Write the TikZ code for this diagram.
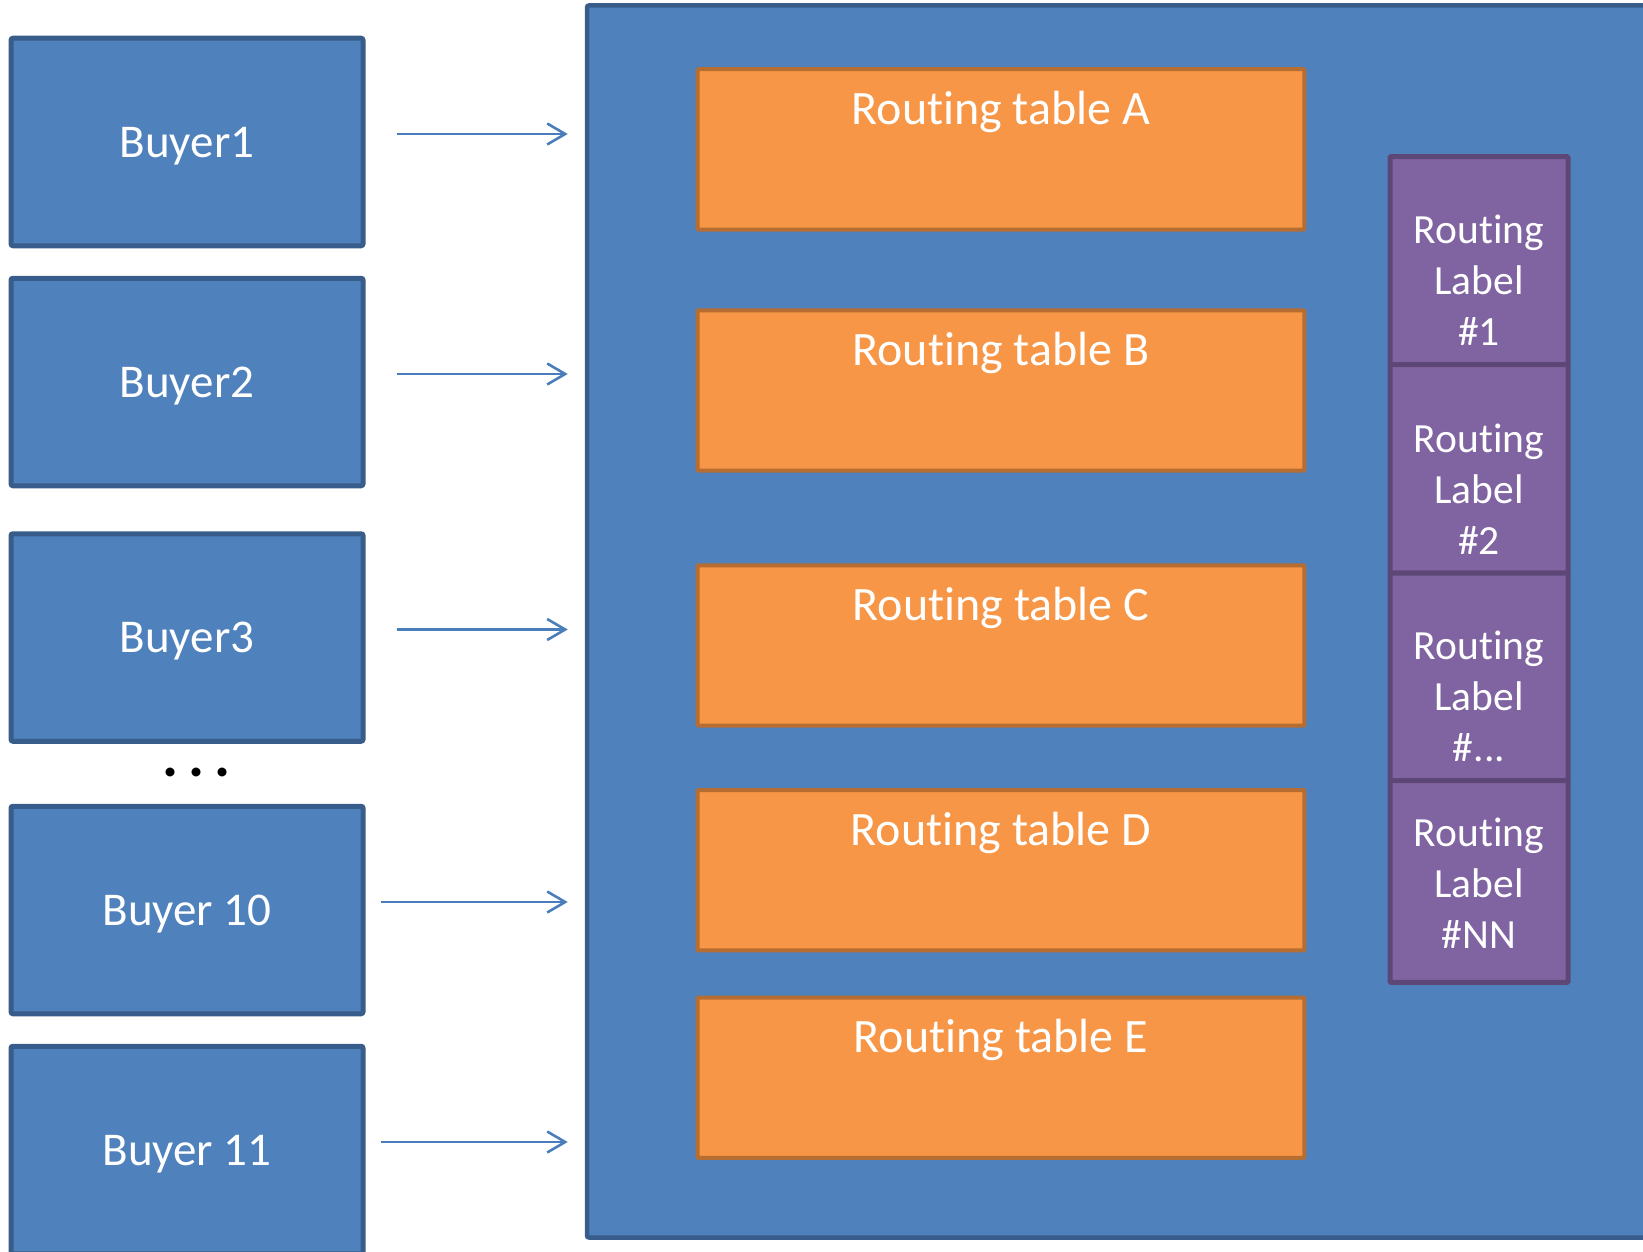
\documentclass[tikz,border=0pt]{standalone}
\usepackage{fontspec}
\setmainfont[Ligatures=NoCommon]{Carlito}
\usepackage{xcolor}
\usepackage{tikz}
\usetikzlibrary{arrows.meta}
\definecolor{boxBlue}{HTML}{4F81BD}
\definecolor{edgeBlue}{HTML}{385D8A}
\definecolor{arrowBlue}{HTML}{4A7EBB}
\definecolor{tableOrange}{HTML}{F79646}
\definecolor{edgeOrange}{HTML}{B66D31}
\definecolor{labelPurple}{HTML}{8064A2}
\definecolor{edgePurple}{HTML}{5C4776}
\newcommand{\arrowLift}{8pt}

\begin{document}
\begin{tikzpicture}[x=1pt,y=-1pt,
	buyer/.style={draw=edgeBlue,fill=boxBlue,line width=5pt,rounded corners=2pt,minimum width=352pt,minimum height=207.5pt,inner sep=0pt,text depth=0pt,text=white,font=\fontsize{47}{56}\selectfont},
	rtable/.style={draw=edgeOrange,fill=tableOrange,line width=4pt,rounded corners=1pt,minimum width=606.7pt,minimum height=160.3pt,inner sep=0pt},
	rtabletext/.style={anchor=base,inner sep=0pt,text=white,font=\fontsize{48}{58}\selectfont},
	rlabel/.style={draw=edgePurple,fill=labelPurple,line width=5pt,rounded corners=1pt,minimum width=178pt,inner sep=0pt},
	rlabeltext/.style={align=center,inner sep=0pt,text=white,font=\fontsize{41.5}{51}\selectfont},
	feed/.style={draw=arrowBlue,line width=2.6pt,-{Straight Barb[length=18pt,width=21pt,line width=2.6pt]},shorten >=17pt}]
	\useasboundingbox (0,0) rectangle (1643,1252);
	\clip (0,0) rectangle (1643,1252);

	\node[draw=edgeBlue,fill=boxBlue,line width=4.5pt,rounded corners=2pt,minimum width=1113pt,minimum height=1232pt,inner sep=0pt] (system) at (1143.5,621.5) {};

	\node[rtable] (tableA) at (1001,149.4) {};
	\node[rtable] (tableB) at (1001,390.4) {};
	\node[rtable] (tableC) at (1001,645.4) {};
	\node[rtable] (tableD) at (1001,870.2) {};
	\node[rtable] (tableE) at (1001,1077.7) {};
	\node[rtabletext] (tableAtext) at ([yshift=-57pt]tableA.north) {Routing table A};
	\node[rtabletext] (tableBtext) at ([yshift=-57pt]tableB.north) {Routing table B};
	\node[rtabletext] (tableCtext) at ([yshift=-57pt]tableC.north) {Routing table C};
	\node[rtabletext] (tableDtext) at ([yshift=-57pt]tableD.north) {Routing table D};
	\node[rtabletext] (tableEtext) at ([yshift=-57pt]tableE.north) {Routing table E};

	\node[rlabel,minimum height=208pt] (label1) at (1479,260.6) {};
	\node[rlabel,minimum height=208.6pt] (label2) at (1479,468.9) {};
	\node[rlabel,minimum height=207.4pt] (label3) at (1479,676.9) {};
	\node[rlabel,minimum height=201.7pt] (labelNN) at (1479,881.5) {};
	\node[rlabeltext] (label1text) at (1479,280.5) {Routing\\Label\\\#1};
	\node[rlabeltext] (label2text) at (1479,489.5) {Routing\\Label\\\#2};
	\node[rlabeltext] (label3text) at (1479,696.5) {Routing\\Label\\\#...};
	\node[rlabeltext] (labelNNtext) at (1479,883.5) {Routing\\Label\\\#NN};

	\node[buyer] (buyer1) at (187,142) {Buyer1};
	\node[buyer] (buyer2) at (187,382) {Buyer2};
	\node[buyer] (buyer3) at (187,637.5) {Buyer3};
	\node[buyer] (buyer10) at (187,910) {Buyer 10};
	\node[buyer] (buyer11) at (187,1150) {Buyer 11};
	\node[inner sep=0pt,font=\fontsize{60}{66}\selectfont\bfseries] (more) at (196.5,772.5) {.\kern10pt.\kern10pt.};

	\draw[feed,shorten <=31pt] ([yshift=\arrowLift]buyer1.east) -- ([yshift=\arrowLift]buyer1.east -| system.west);
	\draw[feed,shorten <=31pt] ([yshift=\arrowLift]buyer2.east) -- ([yshift=\arrowLift]buyer2.east -| system.west);
	\draw[feed,shorten <=31pt] ([yshift=\arrowLift]buyer3.east) -- ([yshift=\arrowLift]buyer3.east -| system.west);
	\draw[feed,shorten <=15pt] ([yshift=\arrowLift]buyer10.east) -- ([yshift=\arrowLift]buyer10.east -| system.west);
	\draw[feed,shorten <=15pt] ([yshift=\arrowLift]buyer11.east) -- ([yshift=\arrowLift]buyer11.east -| system.west);
\end{tikzpicture}
\end{document}
